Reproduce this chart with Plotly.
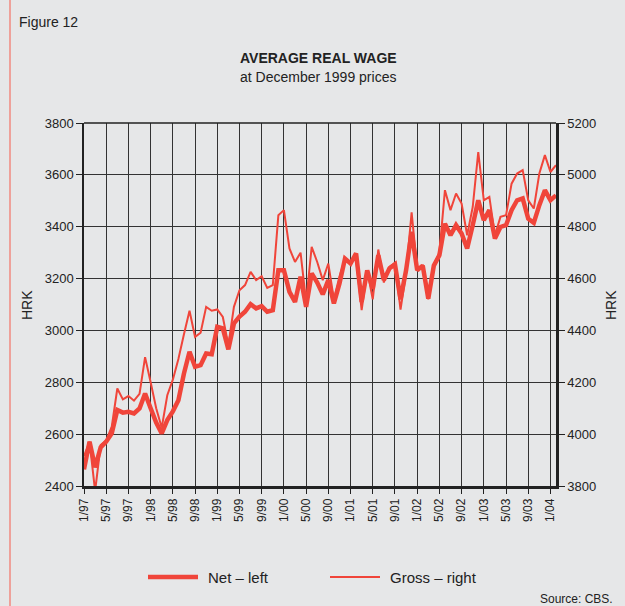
import plotly.graph_objects as go

# ---- data ----
years = ["97", "98", "99", "00", "01", "02", "03", "04"]
months_idx = list(range(86))  # 1/97 .. 2/04
tick_pos = list(range(0, 85, 4))
tick_labels = [f"{m}/{y}" for y in years for m in (1, 5, 9)][:22]

net = [2464, 2571, 2472, 2549, 2571, 2603, 2693, 2683, 2686, 2680,
       2699, 2757, 2700, 2645, 2603, 2654, 2688, 2731, 2834, 2918,
       2860, 2866, 2911, 2908, 3014, 3008, 2927, 3027, 3053, 3072,
       3101, 3085, 3094, 3072, 3078, 3232, 3232, 3149, 3110, 3207,
       3091, 3220, 3185, 3139, 3194, 3104, 3180, 3277, 3258, 3297,
       3110, 3232, 3160, 3290, 3194, 3239, 3255, 3120, 3232, 3380,
       3232, 3250, 3123, 3250, 3290, 3412, 3367, 3406, 3374, 3316,
       3406, 3502, 3425, 3464, 3354, 3399, 3406, 3464, 3502, 3509,
       3431, 3415, 3483, 3541, 3502, 3521]

gross = [3916, 3971, 3780, 3958, 3975, 4029, 4176, 4134, 4147, 4129,
         4155, 4297, 4200, 4100, 4025, 4150, 4210, 4290, 4385, 4476,
         4375, 4391, 4491, 4476, 4481, 4452, 4343, 4491, 4555, 4575,
         4626, 4594, 4609, 4564, 4575, 4844, 4864, 4716, 4664, 4700,
         4510, 4722, 4664, 4594, 4658, 4520, 4607, 4677, 4664, 4677,
         4478, 4632, 4520, 4712, 4585, 4645, 4660, 4480, 4620, 4855,
         4635, 4650, 4520, 4655, 4700, 4941, 4864, 4928, 4889, 4767,
         4876, 5088, 4902, 4915, 4767, 4838, 4844, 4966, 5005, 5018,
         4902, 4870, 5005, 5076, 5011, 5037]

series_names = ["Net \u2013 left", "Gross \u2013 right"]

RED = "#f0453a"
BG = "#e6e7e8"
GRID = "#333333"
FONT = "Liberation Sans, Arial, sans-serif"

W, H = 625, 606
L, R, T, B = 84, 69, 123, 120
PW, PH = W - L - R, H - T - B


def px(xp):
    return (xp - L) / PW


def py(yp):
    return (H - B - yp) / PH


fig = go.Figure()
fig.add_trace(go.Scatter(x=months_idx, y=net, mode="lines", name=series_names[0],
                         line=dict(color=RED, width=4.5), yaxis="y"))
fig.add_trace(go.Scatter(x=months_idx, y=gross, mode="lines", name=series_names[1],
                         line=dict(color=RED, width=2), yaxis="y2"))

fig.update_layout(
    width=W, height=H,
    paper_bgcolor=BG, plot_bgcolor=BG,
    margin=dict(l=L, r=R, t=T, b=B, autoexpand=False),
    font=dict(family=FONT, color="#222222", size=13),
    showlegend=False,
    xaxis=dict(range=[0, 85], tickmode="array", tickvals=tick_pos, ticktext=tick_labels,
               tickangle=-90, showgrid=True, gridcolor=GRID, gridwidth=1,
               ticks="outside", ticklen=5, tickcolor="#222", tickfont=dict(size=12),
               showline=True, linecolor="#222", linewidth=2.5, zeroline=False,
               automargin=False),
    yaxis=dict(range=[2400, 3800], dtick=200, showgrid=True, gridcolor=GRID, gridwidth=1,
               ticks="outside", ticklen=6, tickcolor="#222", tickfont=dict(size=13),
               showline=True, linecolor="#222", linewidth=1.5, zeroline=False,
               automargin=False),
    yaxis2=dict(range=[3800, 5200], dtick=200, overlaying="y", side="right",
                showgrid=False, ticks="outside", ticklen=6, tickcolor="#222",
                tickfont=dict(size=13), showline=True, linecolor="#222", linewidth=2.5,
                zeroline=False, automargin=False),
)

# top frame line
fig.add_shape(type="line", xref="paper", yref="paper", x0=0, x1=1, y0=1, y1=1,
              line=dict(color="#222", width=1.5))
# left red border of the figure panel
fig.add_shape(type="line", xref="paper", yref="paper", x0=px(10), x1=px(10), y0=py(610), y1=py(-5),
              line=dict(color="#f08a80", width=1.5))

# axis titles
fig.add_annotation(text="HRK", xref="paper", yref="paper", x=px(27), y=py(305), textangle=-90,
                   showarrow=False, font=dict(size=14), xanchor="center", yanchor="middle")
fig.add_annotation(text="HRK", xref="paper", yref="paper", x=px(611), y=py(305), textangle=-90,
                   showarrow=False, font=dict(size=14), xanchor="center", yanchor="middle")

# manual legend
leg_y = py(577)
fig.add_shape(type="line", xref="paper", yref="paper", x0=px(148), x1=px(198), y0=leg_y, y1=leg_y,
              line=dict(color=RED, width=4.5))
fig.add_annotation(text=series_names[0], xref="paper", yref="paper", x=px(206), y=leg_y,
                   xanchor="left", yanchor="middle", showarrow=False, font=dict(size=15))
fig.add_shape(type="line", xref="paper", yref="paper", x0=px(330), x1=px(380), y0=leg_y, y1=leg_y,
              line=dict(color=RED, width=2))
fig.add_annotation(text=series_names[1], xref="paper", yref="paper", x=px(388), y=leg_y,
                   xanchor="left", yanchor="middle", showarrow=False, font=dict(size=15))

fig.add_annotation(text="Figure 12", xref="paper", yref="paper", x=px(17), y=py(22),
                   xanchor="left", yanchor="middle", showarrow=False, font=dict(size=14))
fig.add_annotation(text="<b>AVERAGE REAL WAGE</b>", xref="paper", yref="paper", x=px(318), y=py(58),
                   xanchor="center", yanchor="middle", showarrow=False, font=dict(size=14))
fig.add_annotation(text="at December 1999 prices", xref="paper", yref="paper", x=px(318), y=py(77),
                   xanchor="center", yanchor="middle", showarrow=False, font=dict(size=14))
fig.add_annotation(text="Source: CBS.", xref="paper", yref="paper", x=px(615), y=py(599),
                   xanchor="right", yanchor="middle", showarrow=False, font=dict(size=12))

fig.write_html(
    "out.html",
    config={"displayModeBar": False},
    post_script="document.documentElement.style.margin='0';document.body.style.margin='0';"
                "document.body.style.padding='0';document.body.style.overflow='hidden';"
                "document.body.style.background='#e6e7e8';",
)
